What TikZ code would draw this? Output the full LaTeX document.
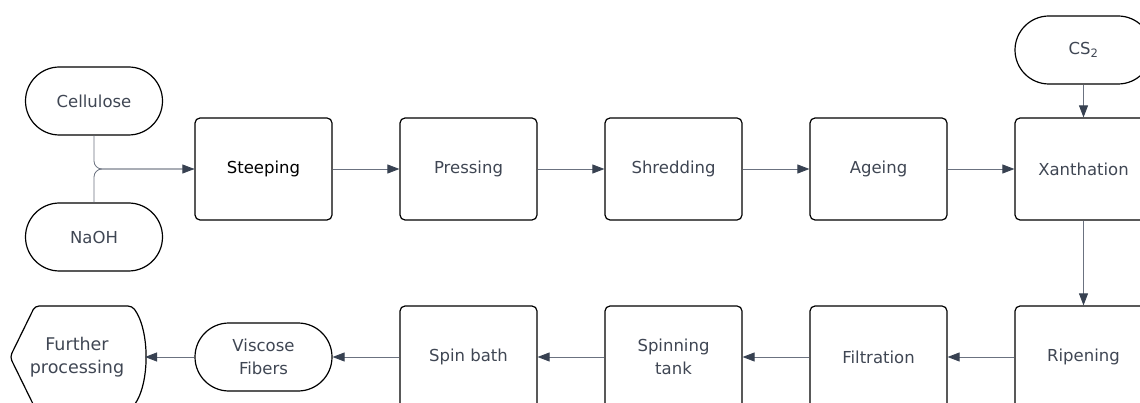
\documentclass[tikz,border=0pt]{standalone}
\usepackage{fontspec}
\setmainfont{DejaVu Sans}
\usetikzlibrary{
		arrows.meta,
		positioning
	}
\definecolor{linegray}{HTML}{6B7280}
\definecolor{headgray}{HTML}{374151}
\definecolor{textgray}{HTML}{3F4653}
\tikzset{
		>={Triangle[length=12pt,width=9pt,color=headgray]},
		stepbox/.style={draw=black, line width=1.2pt, rounded corners=5pt,
			minimum width=137pt, minimum height=102pt, inner sep=0pt,
			align=center, text=textgray, font=\fontsize{16.5}{22.5}\selectfont},
		termbox/.style={stepbox, rounded corners=34pt, minimum height=68pt},
		flow/.style={->, draw=linegray, line width=0.8pt}
	}

\begin{document}
\begin{tikzpicture}[x=1pt,y=-1pt]
          \useasboundingbox (0,0) rectangle (1140,403);
          \clip (0,0) rectangle (1140,403);

          % top row
          \node[termbox] (cellulose) at (94,101) {Cellulose};
          \node[termbox] (naoh) at (94,237) {NaOH};
          \node[stepbox, text=black] (steeping) at (263.5,169) {Steeping};
          \node[stepbox] (pressing) at (468.5,169) {Pressing};
          \node[stepbox] (shredding) at (673.5,169) {Shredding};
          \node[stepbox] (ageing) at (878.5,169) {Ageing};
          \node[stepbox] (xanthation) at (1083.5,169) {Xanthation};
          \node[termbox] (cs) at (1083.5,50) {CS\textsubscript{2}};

          % bottom row
          \node[stepbox] (ripening) at (1083.5,357) {Ripening};
          \node[stepbox] (filtration) at (878.5,357) {Filtration};
          \node[stepbox] (tank) at (673.5,357) {Spinning\\tank};
          \node[stepbox] (bath) at (468.5,357) {Spin bath};
          \node[termbox] (fibers) at (263.5,357) {Viscose\\Fibers};

          % further processing (display shape)
          \draw[line width=1.2pt, rounded corners=4pt]
            (35,306) -- (132,306) .. controls (150,330) and (150,384) .. (132,408)
            -- (35,408) -- (10,357) -- cycle;
          \node[align=center, text=textgray, font=\fontsize{17.5}{22.5}\selectfont]
            (further) at (77,357) {Further\\processing};
          \coordinate (furtherend) at (145,357);

          % connectors
          \draw[draw=linegray, line width=0.8pt, rounded corners=8pt]
            (cellulose.south) |- (steeping.west);
          \draw[flow, rounded corners=8pt] (naoh.north) |- (steeping.west);
          \draw[flow] (steeping) -- (pressing);
          \draw[flow] (pressing) -- (shredding);
          \draw[flow] (shredding) -- (ageing);
          \draw[flow] (ageing) -- (xanthation);
          \draw[flow] (cs) -- (xanthation);
          \draw[flow] (xanthation) -- (ripening);
          \draw[flow] (ripening) -- (filtration);
          \draw[flow] (filtration) -- (tank);
          \draw[flow] (tank) -- (bath);
          \draw[flow] (bath) -- (fibers);
          \draw[flow] (fibers) -- (furtherend);

          \end{tikzpicture}
\end{document}
